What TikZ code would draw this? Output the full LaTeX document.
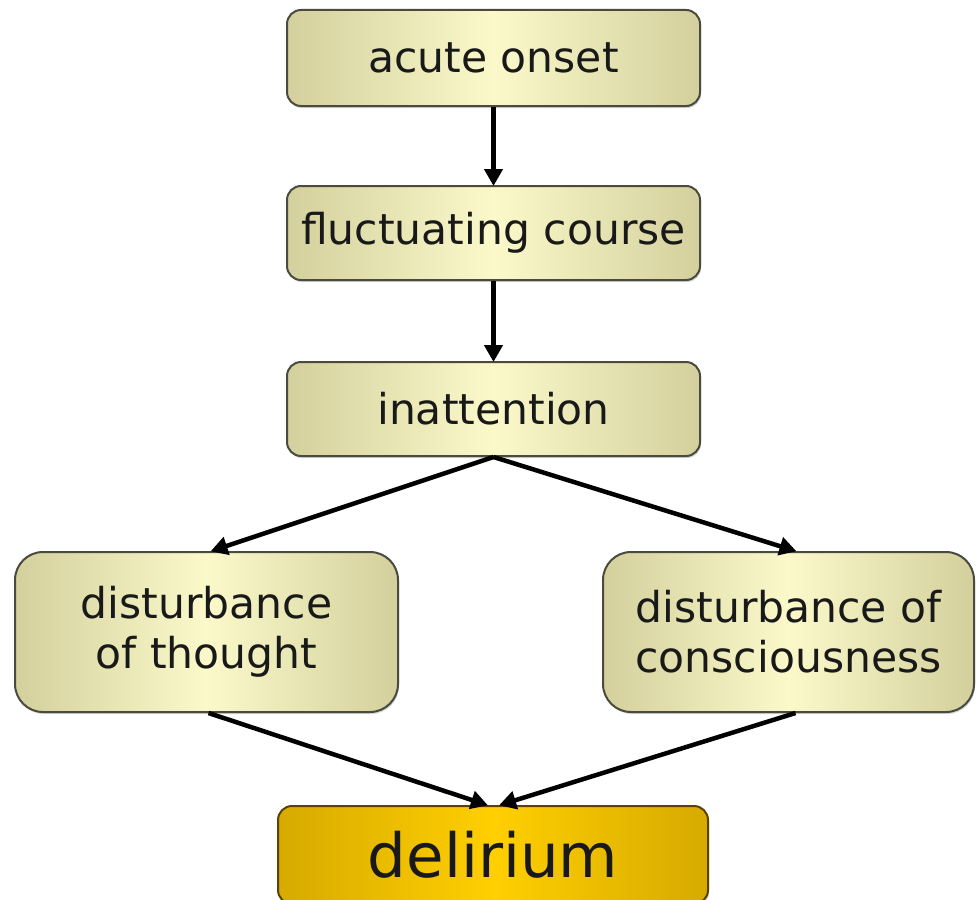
\documentclass[tikz,border=0pt]{standalone}
\usepackage{fontspec}
\setmainfont{DejaVu Sans}
\usetikzlibrary{arrows.meta,shadows}

\definecolor{paleedge}{HTML}{D3D09D}
\definecolor{palemid}{HTML}{FBF9CA}
\definecolor{goldedge}{HTML}{D6AA00}
\definecolor{goldmid}{HTML}{FFCF00}
\definecolor{boxline}{HTML}{4A4A3E}
\definecolor{goldline}{HTML}{5A4300}

\tikzset{
  stage/.style={draw=boxline, line width=2pt, rounded corners=14pt,
    left color=paleedge, right color=paleedge, middle color=palemid,
    drop shadow={shadow xshift=1pt, shadow yshift=-2pt, opacity=0.35},
    align=center, inner sep=0pt, font=\fontsize{42.5}{50}\selectfont,
    text=black!90},
  sidestage/.style={stage, rounded corners=28pt},
  outcome/.style={stage, draw=goldline, left color=goldedge, right color=goldedge,
    middle color=goldmid, font=\fontsize{61}{70}\selectfont},
  flow/.style={line width=4.5pt, -{Triangle[length=17pt,width=18pt]}, shorten >=-1pt}
}

\begin{document}
\begin{tikzpicture}[x=1pt, y=-1pt]
  \useasboundingbox (0,0) rectangle (976,899);

  % main sequence
  \node[stage, minimum width=413pt, minimum height=96pt] (onset) at (493.5,58) {acute onset};
  \node[stage, minimum width=413pt, minimum height=94pt] (course) at (493.5,233) {fluctuating course};
  \node[stage, minimum width=413pt, minimum height=94pt] (attn) at (493.5,409) {inattention};

  % the two branches
  \node[sidestage, minimum width=383pt, minimum height=160pt] (thought) at (206.5,632)
    {disturbance\\of thought};
  \node[sidestage, minimum width=371pt, minimum height=160pt] (conscious) at (788.5,632)
    {disturbance of\\consciousness};

  % outcome
  \node[outcome, minimum width=430pt, minimum height=98pt] (delirium) at (493,855) {delirium};

  % connector end points
  \coordinate (tIn)  at ([xshift=5pt]thought.north);
  \coordinate (cIn)  at ([xshift=7pt]conscious.north);
  \coordinate (tOut) at ([xshift=2pt]thought.south);
  \coordinate (cOut) at ([xshift=7pt]conscious.south);
  \coordinate (dInL) at ([xshift=-6pt]delirium.north);
  \coordinate (dInR) at ([xshift=7pt]delirium.north);

  \draw[flow] (onset.south) -- (course.north);
  \draw[flow] (course.south) -- (attn.north);
  \draw[flow] (attn.south) -- (tIn);
  \draw[flow] (attn.south) -- (cIn);
  \draw[flow] (tOut) -- (dInL);
  \draw[flow] (cOut) -- (dInR);
\end{tikzpicture}
\end{document}
